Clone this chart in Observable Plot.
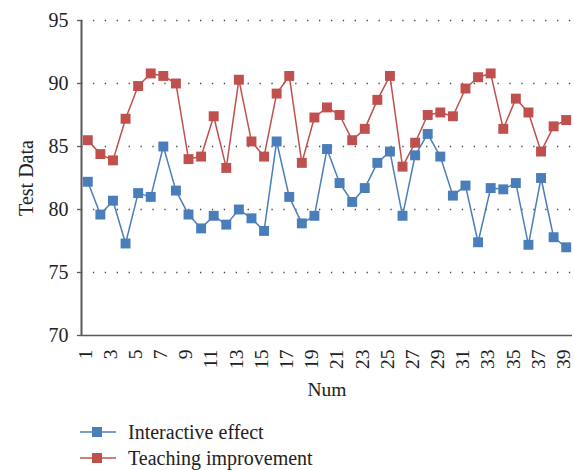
<!DOCTYPE html>
<html>
<head>
<meta charset="utf-8">
<script src="https://cdn.jsdelivr.net/npm/d3@7"></script>
<script src="https://cdn.jsdelivr.net/npm/@observablehq/plot@0.6"></script>
<style>
  html, body { margin: 0; padding: 0; background: #fff; }
  #chart { width: 574px; font-family: "Liberation Serif", "DejaVu Serif", serif; }
  #chart > svg { overflow: visible; }
  .legend { padding-top: 14px; padding-left: 80px; }
  .legend .row { display: flex; align-items: center; height: 26px; font-size: 20px; color: #222; }
  .legend svg { margin-right: 12px; }
</style>
</head>
<body>
<div id="chart"></div>
<script>
const nums = d3.range(1, 40);
const seriesNames = ["Interactive effect", "Teaching improvement"];
const seriesColors = ["#4a7ebb", "#c0504d"];
const interactive = [82.2, 79.6, 80.7, 77.3, 81.3, 81.0, 85.0, 81.5, 79.6, 78.5,
  79.5, 78.8, 80.0, 79.3, 78.3, 85.4, 81.0, 78.9, 79.5, 84.8,
  82.1, 80.6, 81.7, 83.7, 84.6, 79.5, 84.3, 86.0, 84.2, 81.1,
  81.9, 77.4, 81.7, 81.6, 82.1, 77.2, 82.5, 77.8, 77.0];
const teaching = [85.5, 84.4, 83.9, 87.2, 89.8, 90.8, 90.6, 90.0, 84.0, 84.2,
  87.4, 83.3, 90.3, 85.4, 84.2, 89.2, 90.6, 83.7, 87.3, 88.1,
  87.5, 85.5, 86.4, 88.7, 90.6, 83.4, 85.3, 87.5, 87.7, 87.4,
  89.6, 90.5, 90.8, 86.4, 88.8, 87.7, 84.6, 86.6, 87.1];
const yTicks = [70, 75, 80, 85, 90, 95];
const gridTicks = [75, 80, 85, 90, 95];
const xTicks = d3.range(1, 40, 2);

const data = [
  ...nums.map((n, i) => ({num: n, value: interactive[i], series: seriesNames[0]})),
  ...nums.map((n, i) => ({num: n, value: teaching[i], series: seriesNames[1]}))
];

const axisColor = "#595959";
const plot = Plot.plot({
  width: 574,
  height: 405,
  marginTop: 20,
  marginBottom: 70,
  marginLeft: 81,
  marginRight: 2,
  style: {fontFamily: "'Liberation Serif', serif", fontSize: "20px", color: "#222", background: "#fff"},
  x: {domain: [0.5, 39.5]},
  y: {domain: [70, 95]},
  color: {domain: seriesNames, range: seriesColors},
  marks: [
    Plot.gridY(gridTicks, {stroke: "#444", strokeOpacity: 1, strokeWidth: 1.3, strokeDasharray: "1.3,10.6"}),
    Plot.axisY(yTicks, {tickSize: 4, tickPadding: 9, stroke: axisColor, strokeWidth: 1.3, fontSize: 20,
      label: "Test Data", labelAnchor: "center", labelArrow: "none", labelOffset: 63}),
    Plot.axisX(xTicks, {tickSize: 0, tickPadding: 14, tickRotate: -90, fontSize: 19.5, dx: -2.5,
      label: "Num", labelAnchor: "center", labelArrow: "none", labelOffset: 60}),
    Plot.ruleX([0.5], {stroke: axisColor, strokeWidth: 2}),
    Plot.ruleY([70], {stroke: axisColor, strokeWidth: 1.5}),
    Plot.line(data, {x: "num", y: "value", z: "series", stroke: "series", strokeWidth: 1.5}),
    Plot.dot(data, {x: "num", y: "value", fill: "series", symbol: "square", r: 5.6, stroke: "none"})
  ]
});

const chart = document.getElementById("chart");
chart.appendChild(plot);

const legend = document.createElement("div");
legend.className = "legend";
seriesNames.forEach((name, i) => {
  const row = document.createElement("div");
  row.className = "row";
  row.innerHTML = `<svg width="36" height="14"><line x1="0" x2="36" y1="7" y2="7" stroke="${seriesColors[i]}" stroke-width="1.5"/><rect x="12" y="2" width="10" height="10" fill="${seriesColors[i]}"/></svg><span>${name}</span>`;
  legend.appendChild(row);
});
chart.appendChild(legend);
</script>
</body>
</html>
